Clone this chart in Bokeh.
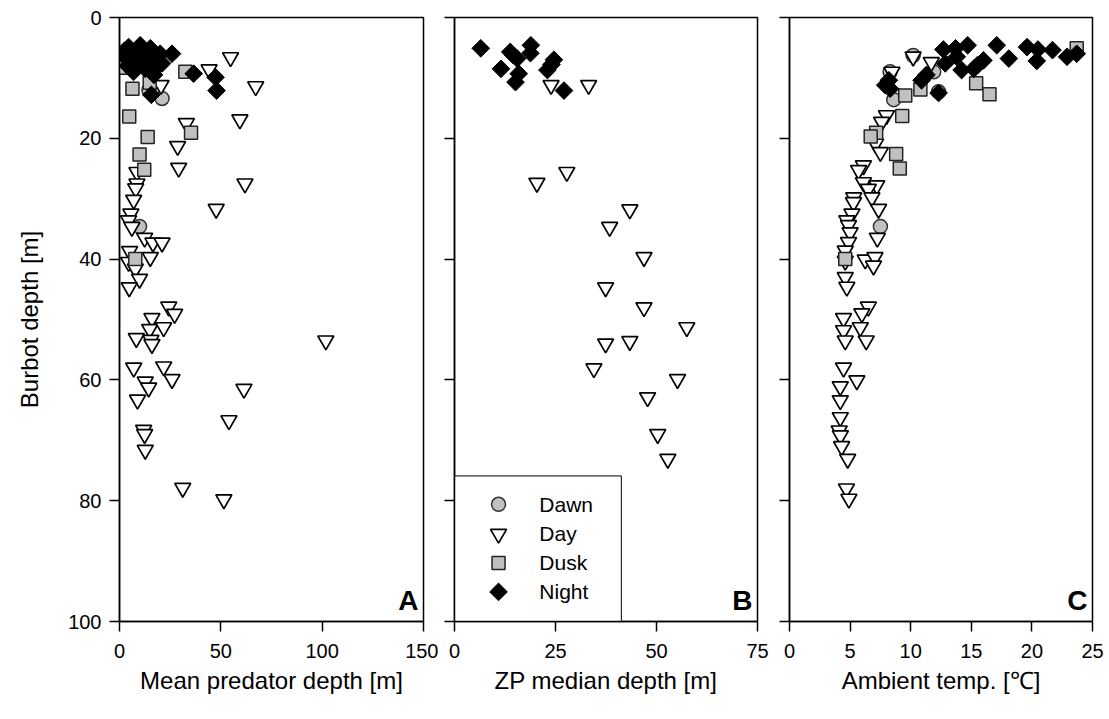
import math

from bokeh.core.properties import value
from bokeh.embed import file_html
from bokeh.layouts import row
from bokeh.models import FixedTicker, Label, Range1d
from bokeh.plotting import figure
from bokeh.resources import INLINE

FONT = "Liberation Sans"
PERIODS = ["Dawn", "Day", "Dusk", "Night"]
DEPTH_TICKS = [0, 20, 40, 60, 80, 100]

# ---- Panel A: mean predator depth [m] vs burbot depth [m] ----
pred_dawn_x = [21.0, 14.5, 9.9]
pred_dawn_y = [13.4, 12.0, 34.6]
pred_day_x = [54.8, 44.2, 67.2, 20.5, 59.4, 33.0, 28.7, 29.2, 61.9, 47.7,
              8.6, 8.6, 8.0, 7.0, 5.6, 4.5, 6.1, 12.4, 16.5, 21.0,
              5.0, 15.2, 4.5, 7.8, 9.9, 4.8, 24.3, 27.2, 16.0, 14.9,
              21.8, 8.3, 15.5, 16.0, 101.8, 7.0, 21.8, 25.9, 12.7, 14.4,
              61.4, 8.9, 54.0, 11.9, 12.4, 12.7, 31.2, 51.5]
pred_day_y = [6.6, 8.6, 11.4, 11.2, 16.9, 17.5, 21.3, 24.9, 27.5, 31.7,
              25.6, 27.5, 28.3, 30.2, 32.5, 33.6, 34.7, 36.5, 37.3, 37.3,
              38.7, 39.7, 40.5, 41.6, 43.3, 44.7, 47.9, 49.1, 49.8, 51.6,
              51.3, 53.1, 53.4, 54.1, 53.5, 58.0, 57.8, 59.9, 60.3, 61.3,
              61.5, 63.3, 66.7, 68.3, 69.0, 71.6, 77.9, 79.8]
pred_dusk_x = [32.5, 2.0, 14.9, 6.4, 4.8, 13.9, 35.3, 9.9, 12.2, 7.8]
pred_dusk_y = [9.0, 8.3, 10.8, 11.8, 16.4, 19.8, 19.1, 22.7, 25.2, 40.0]
pred_night_x = [4.5, 10.2, 15.2, 20.1, 25.9, 3.7, 9.4, 16.0, 21.0, 6.9,
                12.7, 18.5, 2.5, 7.0, 13.0, 4.0, 17.0, 36.6, 47.4, 47.9, 15.7]
pred_night_y = [4.9, 4.6, 5.1, 6.0, 6.0, 6.8, 7.1, 7.1, 7.6, 9.0,
                8.5, 8.2, 5.5, 6.0, 6.5, 8.0, 9.5, 9.3, 9.9, 12.1, 12.8]

# ---- Panel B: zooplankton median depth [m] vs burbot depth [m] ----
zp_day_x = [23.9, 33.2, 20.4, 27.8, 43.4, 38.4, 46.9, 37.4, 46.9, 57.5,
            37.4, 43.4, 34.5, 55.2, 47.8, 50.3, 52.8]
zp_day_y = [11.2, 11.2, 27.4, 25.6, 31.8, 34.7, 39.7, 44.7, 48.0, 51.3,
            54.0, 53.6, 58.1, 59.9, 62.9, 69.0, 73.1]
zp_night_x = [6.5, 13.8, 18.9, 18.8, 15.5, 24.6, 23.0, 11.5, 15.9, 15.1,
              27.1, 14.5, 24.0]
zp_night_y = [5.1, 5.7, 4.6, 5.9, 6.8, 7.0, 8.7, 8.5, 9.3, 10.7,
              12.1, 6.2, 7.8]

# ---- Panel C: ambient temperature [deg C] vs burbot depth [m] ----
temp_dawn_x = [10.2, 8.3, 8.6, 12.3, 11.9, 7.5]
temp_dawn_y = [6.3, 9.0, 13.6, 12.3, 9.0, 34.6]
temp_day_x = [10.2, 11.7, 8.45, 8.0, 7.6, 7.1, 7.5, 6.1, 5.7, 6.1,
              7.2, 6.5, 5.3, 6.8, 5.28, 7.35, 5.15, 4.73, 4.87, 5.0,
              7.25, 4.87, 4.6, 4.6, 6.25, 7.05, 6.93, 4.6, 4.73, 6.51,
              5.97, 4.46, 5.84, 4.46, 4.6, 6.33, 4.46, 5.56, 4.19, 4.19,
              4.19, 4.1, 4.2, 4.3, 4.8, 4.7, 4.9]
temp_day_y = [6.5, 7.4, 9.0, 16.2, 17.3, 20.9, 22.3, 24.5, 25.3, 27.3,
              27.8, 28.4, 29.8, 29.8, 30.6, 31.7, 32.5, 33.6, 34.4, 35.6,
              36.5, 37.2, 38.6, 40.3, 40.1, 39.7, 41.1, 43.0, 44.6, 47.9,
              49.0, 49.8, 51.3, 51.8, 53.5, 53.5, 58.0, 60.1, 61.1, 63.4,
              66.2, 68.4, 69.2, 71.0, 73.1, 78.0, 79.7]
temp_dusk_x = [23.7, 15.4, 16.5, 10.8, 9.55, 9.3, 7.15, 6.7, 8.8, 9.1, 4.6]
temp_dusk_y = [5.1, 10.9, 12.7, 11.9, 12.9, 16.3, 19.1, 19.7, 22.6, 25.0, 40.0]
temp_night_x = [12.7, 13.7, 14.7, 17.1, 18.1, 19.6, 20.5, 20.4, 21.7, 22.9,
                23.7, 12.85, 13.8, 14.2, 15.5, 16.0, 15.2, 11.3, 10.9, 12.3,
                7.9, 8.3, 8.2]
temp_night_y = [5.3, 5.1, 4.6, 4.6, 6.8, 4.9, 5.3, 7.2, 5.4, 6.5,
                6.0, 7.6, 6.5, 8.7, 7.9, 7.1, 8.5, 9.5, 10.4, 12.5,
                11.2, 11.8, 10.4]

STYLE = {
    "Dawn": dict(marker="circle", size=14, fill_color="#c0c0c0",
                 line_color="#333333", line_width=1.5),
    "Day": dict(marker="inverted_triangle", size=16, fill_color="white",
                line_color="black", line_width=1.7),
    "Dusk": dict(marker="square", size=13, fill_color="#c0c0c0",
                 line_color="#222222", line_width=1.5),
    "Night": dict(marker="square", size=12.5, angle=math.pi / 4,
                  fill_color="black", line_color="black", line_width=1),
}

# Key box in the lower-left corner of panel B (ZP depth units / metres)
KEY_BOX = dict(left=0, right=41.3, top=75.9, bottom=100)
KEY_SYMBOL_X = 10.9
KEY_LABEL_X = 21.0
KEY_ROW_DEPTHS = [80.6, 85.5, 90.3, 95.1]


def make_panel(series, xmax, xticks, xlabel, letter, first=False,
               border_left=16, border_right=16):
    p = figure(frame_width=304 if first else 303, frame_height=604,
               x_range=Range1d(0, xmax), y_range=Range1d(100, 0),
               output_backend="svg", toolbar_location=None,
               min_border_left=border_left, min_border_right=border_right,
               min_border_top=17, min_border_bottom=94,
               background_fill_color="white", border_fill_color="white",
               outline_line_color="black", outline_line_width=1.5)
    p.grid.visible = False

    for period in PERIODS:
        if period in series:
            xs, ys = series[period]
            p.scatter(x=xs, y=ys, **STYLE[period])

    for ax in (p.xaxis[0], p.yaxis[0]):
        ax.axis_line_width = 1.5
        ax.major_tick_line_width = 1.5
        ax.major_tick_out = 10
        ax.major_tick_in = 0
        ax.minor_tick_out = 0
        ax.minor_tick_in = 0
        ax.major_label_text_font = FONT
        ax.major_label_text_font_size = "20px"
        ax.major_label_text_color = "black"
        ax.axis_label_text_font = FONT
        ax.axis_label_text_font_size = "24px"
        ax.axis_label_text_font_style = "normal"
        ax.axis_label_text_color = "black"

    p.xaxis.ticker = FixedTicker(ticks=xticks)
    p.xaxis.axis_label = xlabel
    p.xaxis.major_label_standoff = 12
    p.xaxis.axis_label_standoff = 6

    p.yaxis.ticker = FixedTicker(ticks=DEPTH_TICKS)
    if first:
        p.yaxis.axis_label = "Burbot depth [m]"
        p.yaxis.major_label_standoff = 8
        p.yaxis.axis_label_standoff = 22
    else:
        p.yaxis.major_label_overrides = {t: "" for t in DEPTH_TICKS}
        p.yaxis.major_label_standoff = 0

    p.add_layout(Label(x=xmax, y=100, x_offset=-5, y_offset=6, text=letter,
                       text_align="right", text_baseline="bottom",
                       text_font=FONT, text_font_size="28px",
                       text_font_style="bold", text_color="black"))
    return p


pA = make_panel(
    {"Dawn": (pred_dawn_x, pred_dawn_y), "Day": (pred_day_x, pred_day_y),
     "Dusk": (pred_dusk_x, pred_dusk_y), "Night": (pred_night_x, pred_night_y)},
    150, [0, 50, 100, 150], "Mean predator depth [m]", "A", first=True,
    border_left=119, border_right=15)

pB = make_panel(
    {"Day": (zp_day_x, zp_day_y), "Night": (zp_night_x, zp_night_y)},
    75, [0, 25, 50, 75], "ZP median depth [m]", "B",
    border_left=16, border_right=16)

pC = make_panel(
    {"Dawn": (temp_dawn_x, temp_dawn_y), "Day": (temp_day_x, temp_day_y),
     "Dusk": (temp_dusk_x, temp_dusk_y), "Night": (temp_night_x, temp_night_y)},
    25, [0, 5, 10, 15, 20, 25], "Ambient temp. [℃]", "C",
    border_left=16, border_right=17)

# Symbol key for the four periods of the day, drawn inside panel B
pB.quad(fill_color="white", line_color="black", line_width=1, **KEY_BOX)
for period, depth in zip(PERIODS, KEY_ROW_DEPTHS):
    pB.scatter(x=[KEY_SYMBOL_X], y=[depth], **STYLE[period])
pB.text(x=[KEY_LABEL_X] * len(PERIODS), y=KEY_ROW_DEPTHS, text=PERIODS,
        text_font=value(FONT), text_font_size="21px", text_color="black",
        text_baseline="middle", text_align="left")

layout = row(pA, pB, pC)

with open("out.html", "w") as f:
    f.write(file_html(layout, INLINE))
